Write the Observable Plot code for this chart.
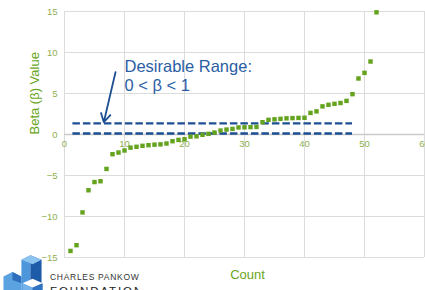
<!DOCTYPE html>
<html>
<head>
<meta charset="utf-8">
<script src="https://cdn.jsdelivr.net/npm/d3@7"></script>
<script src="https://cdn.jsdelivr.net/npm/@observablehq/plot@0.6"></script>
<style>
  html, body { margin: 0; padding: 0; background: #fff; }
  #wrap { position: relative; width: 425px; height: 290px; overflow: hidden; font-family: "Liberation Sans", Arial, sans-serif; }
  #logo { position: absolute; left: 0; top: 245px; }
</style>
</head>
<body>
<div id="wrap"></div>
<script>
// ---- data ----
const counts = [1,2,3,4,5,6,7,8,9,10,11,12,13,14,15,16,17,18,19,20,21,22,23,24,25,26,
                27,28,29,30,31,32,33,34,35,36,37,38,39,40,41,42,43,44,45,46,47,48,49,50,51,52];
const betaValues = [-14.2,-13.5,-9.5,-6.8,-5.8,-5.7,-4.2,-2.4,-2.2,-1.95,-1.6,-1.5,
                    -1.38,-1.3,-1.24,-1.2,-1.1,-0.82,-0.66,-0.58,
                    -0.26,-0.22,-0.04,0.08,0.24,0.48,0.6,0.68,0.86,0.88,0.9,0.92,
                    1.5,1.79,1.85,1.91,1.97,2.0,2.02,2.04,
                    2.63,2.82,3.43,3.62,3.74,3.84,4.1,4.92,6.83,7.52,8.9,14.9];
const xTicks = [0,10,20,30,40,50,60];
const yTicks = [-15,-10,-5,0,5,10,15];
const rangeLines = [0.12, 1.35];          // dashed "desirable range" lines
const rangeExtent = [1.4, 48];            // x extent of dashed lines
const arrowFrom = [8.5, 7.6], arrowTo = [6.55, 1.5];
const annotationLines = ["Desirable Range:", "0 < β < 1"];
const annotationPos = [[10, 8.22], [10, 5.9]];

const points = counts.map((c, i) => ({count: c, beta: betaValues[i]}));

const tickColor = "#8fae4f";
const titleColor = "#6aa522";
const pointColor = "#63a31e";
const dashColor = "#1d4f93";
const annColor = "#2a5ea5";

const chart = Plot.plot({
  width: 425,
  height: 290,
  marginLeft: 64,
  marginRight: 1,
  marginTop: 11,
  marginBottom: 33,
  x: {domain: [0, 60], axis: null},
  y: {domain: [-15, 15], axis: null},
  style: {fontFamily: "'Liberation Sans', Arial, sans-serif", background: "transparent", overflow: "visible"},
  marks: [
    Plot.gridX(xTicks, {stroke: "#dcdcdc", strokeOpacity: 1, strokeWidth: 1}),
    Plot.gridY(yTicks, {stroke: "#dcdcdc", strokeOpacity: 1, strokeWidth: 1.2}),
    Plot.ruleY([0], {stroke: "#cacaca", strokeWidth: 1.5}),
    Plot.axisY(yTicks, {tickSize: 0, tickPadding: 7, fill: tickColor, fontSize: 9.5, label: null}),
    Plot.text(xTicks, {x: d => d, y: () => 0, dy: 9, fill: tickColor, fontSize: 9.5}),
    Plot.ruleY(rangeLines, {x1: rangeExtent[0], x2: rangeExtent[1], stroke: dashColor, strokeWidth: 2.3, strokeDasharray: "7.5,3"}),
    Plot.dot(points, {x: "count", y: "beta", symbol: "square", r: 2.5, fill: pointColor, stroke: null}),
    Plot.arrow([0], {x1: () => arrowFrom[0], y1: () => arrowFrom[1], x2: () => arrowTo[0], y2: () => arrowTo[1],
                     stroke: dashColor, strokeWidth: 1.8, headLength: 8, bend: 0}),
    Plot.text(annotationLines, {x: (d, i) => annotationPos[i][0], y: (d, i) => annotationPos[i][1],
                                text: d => d, textAnchor: "start", fill: annColor, fontSize: 16.5}),
    Plot.text(["Beta (β) Value"], {frameAnchor: "left", rotate: -90, dx: -30, fill: titleColor, fontSize: 13}),
    Plot.text(["Count"], {x: () => 30.5, frameAnchor: "bottom", dy: 21.5, fill: titleColor, fontSize: 13})
  ]
});

const wrap = document.getElementById("wrap");
wrap.appendChild(chart);

// logo (decoration)
const ns = "http://www.w3.org/2000/svg";
const logo = document.createElementNS(ns, "svg");
logo.setAttribute("id", "logo");
logo.setAttribute("width", "140");
logo.setAttribute("height", "50");
logo.innerHTML = `
  <g transform="translate(-1,-2) scale(1.12)">
  <polygon points="4,30 12,26 20,30 20,45 4,45" fill="#5aa2e0"/>
  <polygon points="12,26 20,30 20,36 12,33" fill="#2e6fbd"/>
  <polygon points="20,15 28,11 28,45 20,45" fill="#4e96dc"/>
  <polygon points="28,11 38,15 38,45 28,45" fill="#1d5aa8"/>
  <polygon points="20,15 28,11 38,15 30,19" fill="#8cc3ef"/>
  <polygon points="21,36 30,32 39,36 30,40" fill="#ffffff"/>
  <polygon points="30,40 39,36 39,45 30,45" fill="#2f73c2"/>
  <polygon points="21,36 30,40 30,45 21,45" fill="#73b2ea"/>
  </g>
  <text x="50" y="35" font-size="8.5" letter-spacing="0.7" fill="#333" font-family="'Liberation Sans', Arial, sans-serif">CHARLES PANKOW</text>
  <text x="50" y="50" font-size="11.5" letter-spacing="1.9" fill="#222" font-family="'Liberation Sans', Arial, sans-serif">FOUNDATION</text>
`;
wrap.appendChild(logo);
</script>
</body>
</html>
